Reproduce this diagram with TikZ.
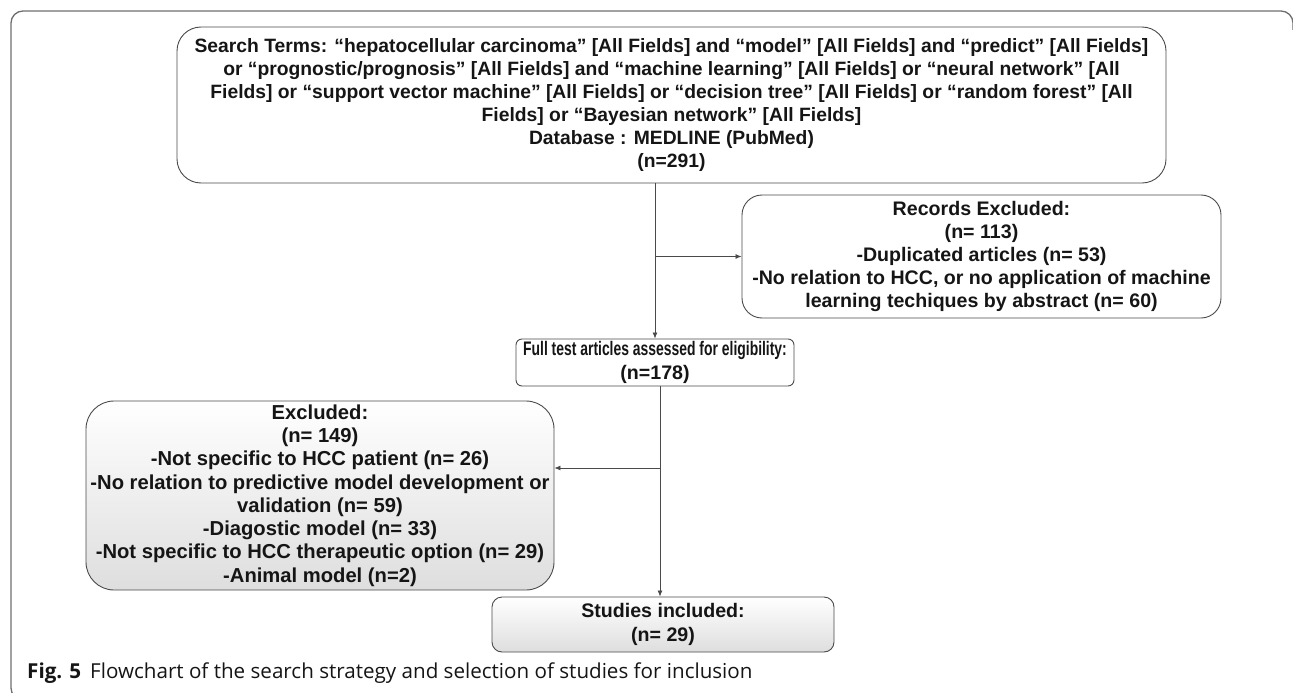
\documentclass[tikz,border=0pt]{standalone}
\usepackage{fontspec}
\setmainfont{Liberation Sans}
\newfontfamily\capfont{Open Sans}
\usetikzlibrary{arrows.meta}
\definecolor{frame}{HTML}{6E6E6E}
\definecolor{edge}{HTML}{4A4A4A}
\definecolor{txt}{HTML}{151515}
\begin{document}
\begin{tikzpicture}[x=1pt,y=1pt,
  box/.style={draw=edge, line width=0.9pt, inner sep=0pt, align=center,
    text=txt, font=\fontsize{19.6}{23.2}\selectfont\bfseries},
  shadedbox/.style={box, top color=white, bottom color=black!13},
  arr/.style={draw=edge, line width=0.8pt, -{Latex[length=6pt,width=5pt]}}]
\useasboundingbox (0,0) rectangle (1293,-693);
% outer frame
\draw[frame, line width=1.3pt] (23,-700) arc[start angle=270, end angle=180, radius=12]
  -- (11,-23) arc[start angle=180, end angle=90, radius=12]
  -- (1281,-11) arc[start angle=90, end angle=0, radius=12] -- (1293,-30);
% nodes
\node[box, rounded corners=24pt, minimum width=989pt, minimum height=156pt,
  font=\fontsize{19.3}{23.1}\selectfont\bfseries] (top) at (671.5,-105)
  {Search Terms: “hepatocellular carcinoma” [All Fields] and “model” [All Fields] and “predict” [All Fields]\\
   or “prognostic/prognosis” [All Fields] and “machine learning” [All Fields] or “neural network” [All\\
   Fields] or “support vector machine” [All Fields] or “decision tree” [All Fields] or “random forest” [All\\
   Fields] or “Bayesian network” [All Fields]\\
   Database : MEDLINE (PubMed)\\
   (n=291)};
\node[box, rounded corners=20pt, minimum width=479pt, minimum height=123pt] (rec) at (981.5,-256.5)
  {Records Excluded:\\
   (n= 113)\\
   -Duplicated articles (n= 53)\\
   -No relation to HCC, or no application of machine\\
   learning techiques by abstract (n= 60)};
\node[box, rounded corners=6pt, minimum width=278pt, minimum height=47pt] (full) at (655,-362.5)
  {\scalebox{0.71}[1]{Full test articles assessed for eligibility:}\\(n=178)};
\node[shadedbox, rounded corners=28pt, minimum width=468pt, minimum height=189pt,
  font=\fontsize{20.2}{23.3}\selectfont\bfseries] (exc) at (320,-495.5)
  {Excluded:\\
   (n= 149)\\
   -Not specific to HCC patient (n= 26)\\
   -No relation to predictive model development or\\
   validation (n= 59)\\
   -Diagostic model (n= 33)\\
   -Not specific to HCC therapeutic option (n= 29)\\
   -Animal model (n=2)};
\node[shadedbox, rounded corners=10pt, minimum width=342pt, minimum height=55pt] (stud) at (663,-624.5)
  {Studies included:\\(n= 29)};
% connectors
\coordinate (j2) at (660,-468);
\draw[arr] (top.south -| full.north) -- (full.north);
\draw[arr] (rec.west -| full.north) -- (rec.west);
\draw[draw=edge, line width=0.8pt] (full.south -| j2) -- (j2);
\draw[arr] (j2) -- (j2 |- stud.north);
\draw[arr] (j2) -- (exc.east |- j2);
% caption
\node[anchor=west, inner sep=0pt, text=txt, font=\capfont\fontsize{20.6}{24}\selectfont] (cap) at (27,-673)
  {\textbf{Fig. 5}\hspace{9pt}Flowchart of the search strategy and selection of studies for inclusion};
\end{tikzpicture}
\end{document}
